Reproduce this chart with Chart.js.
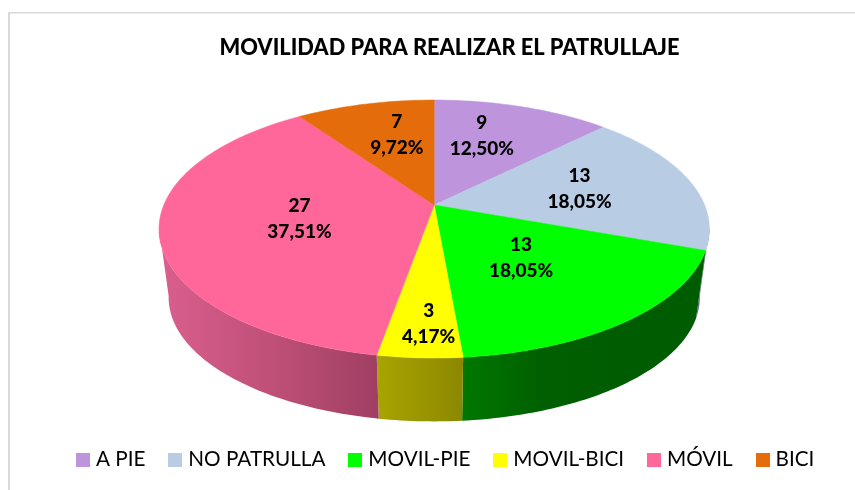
<!DOCTYPE html>
<html>
<head>
<meta charset="utf-8">
<style>html,body{margin:0;padding:0;background:#fff}canvas{display:block}</style>
<script src="https://cdn.jsdelivr.net/npm/chart.js@4/dist/chart.umd.min.js"></script>
</head>
<body>
<canvas id="c" width="855" height="490"></canvas>
<script>
const categories = ['A PIE','NO PATRULLA','MOVIL-PIE','MOVIL-BICI','MÓVIL','BICI'];
const counts = [9,13,13,3,27,7];
const percentLabels = ['12,50%','18,05%','18,05%','4,17%','37,51%','9,72%'];
const titleText = 'MOVILIDAD PARA REALIZAR EL PATRULLAJE';
const colors = ['#BE94DC','#B8CCE4','#00FF00','#FFFF00','#FF6699','#E46C0A'];
const wallColors = [
  ['#6a5080','#6a5080'],
  ['#5f6b78','#56606c'],
  ['#007800','#005f00','#005c00','#005c00'],
  ['#a8a400','#8c8800'],
  ['#da5f8e','#c05078','#a03f63'],
  ['#80400a','#80400a']
];
const labelNudge = [[0,-16],[16,-3],[-2,0],[1,50],[0,0],[0,-16]];

/* perspective view of the disc */
const view = {x0:434.2,y0:205,A:270.4,B:124.5,k:-0.186,labelR:0.5,
  wallSx:0.965,wallSy:0.96,ellipseCy:229,wallCy:297.6,silR:100,silL:260};
function proj(t,r){
  const u=Math.sin(t)*r, v=-Math.cos(t)*r, w=1+view.k*v;
  return {x:view.x0+view.A*u/w, y:view.y0+view.B*v/w};
}
function rim(t){
  const p=proj(t,1);
  return {x:view.x0+(p.x-view.x0)*view.wallSx, y:view.wallCy+(p.y-view.ellipseCy)*view.wallSy};
}
const toT = a => a+Math.PI/2;
const D2R = Math.PI/180;

function drawSlice(ctx){
  const t0=toT(this.startAngle), t1=toT(this.endAngle);
  ctx.save();
  ctx.fillStyle=this.options.backgroundColor;
  ctx.strokeStyle=this.options.backgroundColor;
  ctx.lineWidth=0.5;
  ctx.beginPath();
  ctx.moveTo(view.x0,view.y0);
  const n=Math.max(4,Math.ceil((t1-t0)/(1*D2R)));
  for(let i=0;i<=n;i++){const p=proj(t0+(t1-t0)*i/n,1);ctx.lineTo(p.x,p.y);}
  ctx.closePath();ctx.fill();ctx.stroke();
  ctx.restore();
}

const pie3d = {
  id:'pie3d',
  afterLayout(chart){
    chart.legend.left-=2;chart.legend.right-=2;
  },
  beforeDraw(chart){
    const c=chart.ctx;
    c.save();c.fillStyle='#d9d9d9';
    c.fillRect(8,12,2,478);c.fillRect(8,12,847,1.5);
    c.restore();
  },
  beforeDatasetsDraw(chart){
    const c=chart.ctx, arcs=chart.getDatasetMeta(0).data;
    arcs.forEach((arc,i)=>{
      arc.draw=drawSlice;
      const a=Math.max(toT(arc.startAngle),view.silR*D2R), b=Math.min(toT(arc.endAngle),view.silL*D2R);
      if(b<=a) return;
      const n=Math.ceil((b-a)/(1*D2R));
      const top=[],bot=[];
      for(let j=0;j<=n;j++){const t=a+(b-a)*j/n;top.push(proj(t,1));bot.push(rim(t));}
      const xs=top.concat(bot).map(p=>p.x);
      const g=c.createLinearGradient(Math.min(...xs),0,Math.max(...xs),0);
      const sh=wallColors[i];
      sh.forEach((col,k)=>g.addColorStop(k/(sh.length-1),col));
      c.save();
      c.fillStyle=g;
      c.beginPath();
      top.forEach((p,k)=>k?c.lineTo(p.x,p.y):c.moveTo(p.x,p.y));
      bot.reverse().forEach(p=>c.lineTo(p.x,p.y));
      c.closePath();c.fill();
      c.restore();
    });
  },
  afterDatasetsDraw(chart){
    const c=chart.ctx, arcs=chart.getDatasetMeta(0).data;
    c.save();
    c.fillStyle='#000';c.textAlign='center';c.textBaseline='middle';
    c.font='900 19px Lato';
    arcs.forEach((arc,i)=>{
      const p=proj((toT(arc.startAngle)+toT(arc.endAngle))/2,view.labelR);
      const x=p.x+labelNudge[i][0], y=p.y+labelNudge[i][1];
      c.fillText(String(counts[i]),x,y-13);
      c.fillText(percentLabels[i],x,y+13);
    });
    c.restore();
  }
};

function swatch(col){
  const s=document.createElement('canvas');s.width=14;s.height=14;
  const x=s.getContext('2d');x.fillStyle=col;x.fillRect(0,0,14,14);
  return s;
}

new Chart(document.getElementById('c'),{
  type:'pie',
  data:{labels:categories,datasets:[{data:counts,backgroundColor:colors,borderWidth:0}]},
  plugins:[pie3d],
  options:{
    responsive:false,animation:false,
    layout:{padding:{left:44,top:35,bottom:10}},
    plugins:{
      tooltip:{enabled:false},
      title:{display:true,text:titleText,color:'#000',font:{family:'Lato',size:21.8,weight:'900'},padding:{top:0,bottom:0}},
      legend:{
        position:'bottom',
        labels:{
          color:'#000',font:{family:'Lato',size:20.7},usePointStyle:true,pointStyleWidth:5,padding:27.5,
          generateLabels(chart){
            return categories.map((t,i)=>({text:t,fillStyle:colors[i],strokeStyle:colors[i],lineWidth:0,pointStyle:swatch(colors[i]),fontColor:'#000',index:i,hidden:false}));
          }
        }
      }
    }
  }
});
</script>
</body>
</html>
